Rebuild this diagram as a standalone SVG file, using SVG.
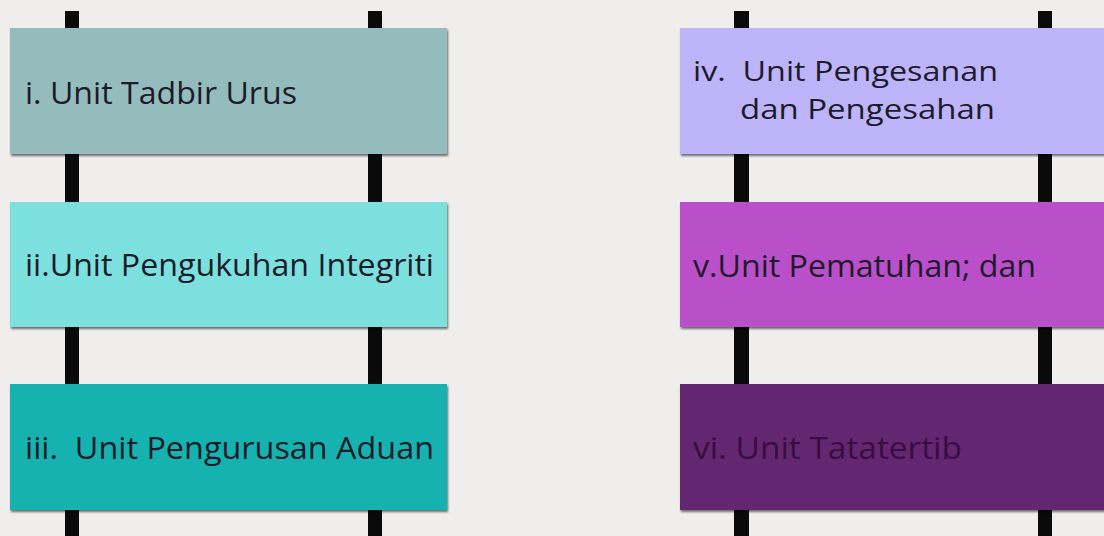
<svg xmlns="http://www.w3.org/2000/svg" width="1104" height="536" viewBox="0 0 1104 536">
<defs>
<filter id="sh" x="-5%" y="-5%" width="110%" height="115%">
<feDropShadow dx="1" dy="2" stdDeviation="1" flood-color="#000" flood-opacity="0.55"/>
</filter>
<style>
.bar{fill:#0a0a0a}
.box{filter:url(#sh)}
.t{font-family:"Open Sans","Liberation Sans",sans-serif;font-size:31px;fill:#1c1b2a}
.t2{font-size:28px}
</style>
</defs>
<rect x="0" y="0" width="1104" height="536" fill="#efeeec"/>
<g id="connectors">
<rect class="bar" x="65" y="11" width="14" height="525"/>
<rect class="bar" x="368" y="11" width="14" height="525"/>
<rect class="bar" x="734" y="11" width="15" height="525"/>
<rect class="bar" x="1038" y="11" width="14" height="525"/>
</g>
<g id="n1">
<rect class="box" x="10" y="28" width="437" height="126" fill="#94bcbc"/>
<text class="t" x="25" y="104" textLength="272" lengthAdjust="spacingAndGlyphs">i. Unit Tadbir Urus</text>
</g>
<g id="n2">
<rect class="box" x="10" y="202" width="437" height="125" fill="#7be1de"/>
<text class="t" x="25" y="276" textLength="409" lengthAdjust="spacingAndGlyphs">ii.Unit Pengukuhan Integriti</text>
</g>
<g id="n3">
<rect class="box" x="10" y="384" width="437" height="126" fill="#17b2af"/>
<text class="t" x="25" y="459" textLength="409" lengthAdjust="spacingAndGlyphs" xml:space="preserve">iii.  Unit Pengurusan Aduan</text>
</g>
<g id="n4">
<rect class="box" x="680" y="28" width="440" height="126" fill="#beb4fa"/>
<text class="t t2" x="693" y="81" textLength="305" lengthAdjust="spacingAndGlyphs" xml:space="preserve">iv.  Unit Pengesanan</text>
<text class="t t2" x="740" y="119" textLength="255" lengthAdjust="spacingAndGlyphs">dan Pengesahan</text>
</g>
<g id="n5">
<rect class="box" x="680" y="202" width="440" height="125" fill="#ba4fca"/>
<text class="t" x="693" y="277" textLength="343" lengthAdjust="spacingAndGlyphs">v.Unit Pematuhan; dan</text>
</g>
<g id="n6">
<rect class="box" x="680" y="384" width="440" height="126" fill="#63256f"/>
<text class="t" x="693" y="459" textLength="269" lengthAdjust="spacingAndGlyphs" style="fill:#380d42">vi. Unit Tatatertib</text>
</g>
</svg>
